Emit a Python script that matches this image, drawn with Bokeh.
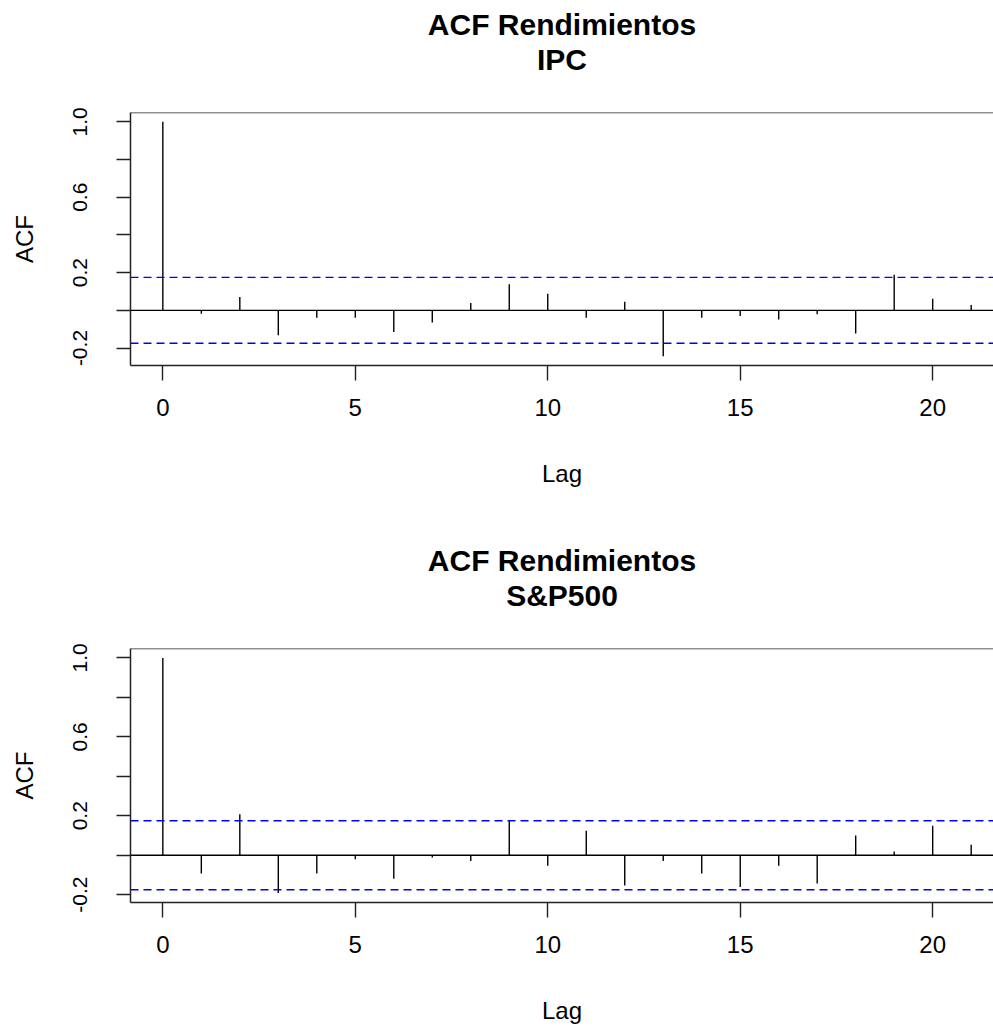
from bokeh.plotting import figure
from bokeh.layouts import column
from bokeh.models import Range1d, Span, Title, FixedTicker, PrintfTickFormatter
from bokeh.embed import file_html
from bokeh.resources import INLINE

# ---- data ----
lags = list(range(22))
acf_ipc = [1.0, -0.018, 0.071, -0.132, -0.039, -0.039, -0.115, -0.065, 0.039, 0.139,
           0.088, -0.039, 0.046, -0.243, -0.039, -0.030, -0.048, -0.021, -0.123, 0.189,
           0.062, 0.028]
acf_sp = [1.0, -0.093, 0.207, -0.192, -0.093, -0.020, -0.119, -0.012, -0.029, 0.178,
          -0.053, 0.124, -0.153, -0.029, -0.093, -0.161, -0.053, -0.144, 0.100, 0.019,
          0.149, 0.053]
ci = 0.175  # 1.96/sqrt(n) confidence band
x_ticks = [0, 5, 10, 15, 20]
y_major_ticks = [-0.2, 0.2, 0.6, 1.0]
y_minor_ticks = [0.0, 0.4, 0.8]
main_title = "ACF Rendimientos"
subtitles = ["IPC", "S&P500"]

FONT = "Liberation Sans"


def acf_panel(acf, subtitle, height, border_top, border_bottom):
    ymin = min(acf)
    r = 1.0 - ymin
    y0, y1 = ymin - 0.04 * r, 1.0 + 0.04 * r
    p = figure(width=993, height=height, output_backend="svg", toolbar_location=None,
               x_range=Range1d(-0.84, 21.58), y_range=Range1d(y0, y1),
               min_border_left=130, min_border_right=0,
               min_border_top=border_top, min_border_bottom=border_bottom,
               title=None)
    p.background_fill_color = "white"
    p.border_fill_color = "white"
    p.outline_line_color = None
    p.grid.visible = False

    # spikes
    p.segment(x0=lags, y0=[0] * len(lags), x1=lags, y1=acf,
              line_color="black", line_width=1.4)
    # zero line and confidence bands
    p.add_layout(Span(location=0, dimension="width", line_color="black", line_width=1.4))
    for c in (ci, -ci):
        p.add_layout(Span(location=c, dimension="width", line_color="#0000FF",
                          line_width=1.4, line_dash="8 5"))
    # top border of the box
    p.add_layout(Span(location=y1, dimension="width", line_color="#222222", line_width=1.5))

    # x axis
    xa = p.xaxis[0]
    xa.ticker = FixedTicker(ticks=x_ticks)
    xa.axis_label = "Lag"
    xa.axis_line_width = 1.5
    xa.major_tick_out = 15
    xa.major_tick_in = 0
    xa.minor_tick_out = 0
    xa.minor_tick_in = 0
    xa.major_label_standoff = 18
    xa.major_label_text_font = FONT
    xa.major_label_text_font_size = "24px"
    xa.major_label_text_color = "black"
    xa.axis_label_text_font = FONT
    xa.axis_label_text_font_size = "24px"
    xa.axis_label_text_font_style = "normal"
    xa.axis_label_text_color = "black"
    xa.axis_label_standoff = 41

    # y axis
    ya = p.yaxis[0]
    ya.ticker = FixedTicker(ticks=y_major_ticks, minor_ticks=y_minor_ticks)
    ya.formatter = PrintfTickFormatter(format="%.1f")
    ya.axis_label = "ACF"
    ya.axis_line_width = 1.5
    ya.major_tick_out = 14
    ya.major_tick_in = 0
    ya.minor_tick_out = 14
    ya.minor_tick_in = 0
    ya.minor_tick_line_color = "#222222"
    ya.major_label_orientation = "vertical"
    ya.major_label_standoff = 29
    ya.major_label_text_font = FONT
    ya.major_label_text_font_size = "21px"
    ya.major_label_text_color = "black"
    ya.axis_label_text_font = FONT
    ya.axis_label_text_font_size = "24px"
    ya.axis_label_text_font_style = "normal"
    ya.axis_label_text_color = "black"
    ya.axis_label_standoff = 33

    for ax in (xa, ya):
        ax.axis_line_color = "#222222"
        ax.major_tick_line_color = "#222222"
        ax.major_tick_line_width = 1.4
        ax.minor_tick_line_width = 1.4

    p.add_layout(Title(text=subtitle, align="center", text_font=FONT,
                       text_font_size="30px", text_font_style="bold",
                       text_color="black", standoff=74), "above")
    p.add_layout(Title(text=main_title, align="center", text_font=FONT,
                       text_font_size="30px", text_font_style="bold",
                       text_color="black", standoff=-74), "above")
    return p


p1 = acf_panel(acf_ipc, subtitles[0], 537, 112, 172)
p2 = acf_panel(acf_sp, subtitles[1], 491, 111, 126)
layout = column(p1, p2, spacing=0)

open("out.html", "w").write(file_html(layout, INLINE))
